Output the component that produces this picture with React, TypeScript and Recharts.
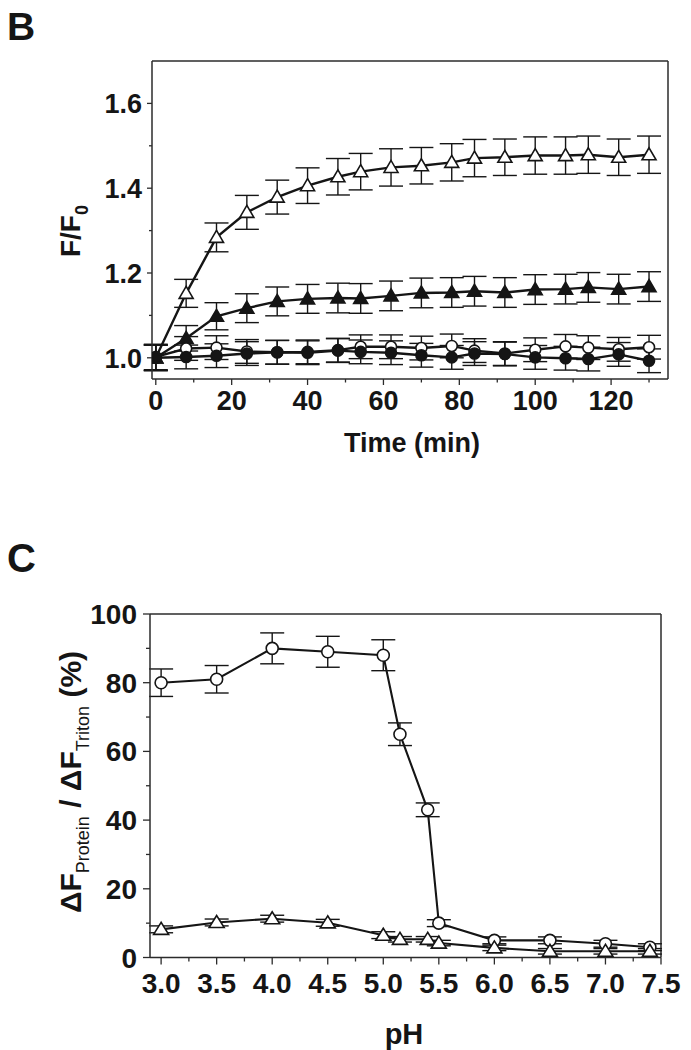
import React from 'react';
import { ComposedChart, Line, XAxis, YAxis, ErrorBar, ReferenceLine } from 'recharts';

// ---------- Panel B data ----------
const times = [0, 8, 16, 24, 32, 40, 48, 54, 62, 70, 78, 84, 92, 100, 108, 114, 122, 130];
const openTriangle = [1.0, 1.152, 1.284, 1.343, 1.379, 1.406, 1.427, 1.439, 1.449, 1.453, 1.461, 1.471, 1.473, 1.477, 1.477, 1.479, 1.473, 1.479];
const openTriangleErr = [0.03, 0.033, 0.034, 0.04, 0.04, 0.042, 0.043, 0.043, 0.044, 0.043, 0.044, 0.044, 0.043, 0.044, 0.044, 0.044, 0.043, 0.044];
const filledTriangle = [1.0, 1.046, 1.098, 1.117, 1.133, 1.139, 1.141, 1.14, 1.146, 1.153, 1.154, 1.157, 1.154, 1.161, 1.162, 1.166, 1.162, 1.168];
const filledTriangleErr = [0.03, 0.03, 0.032, 0.034, 0.034, 0.034, 0.035, 0.035, 0.035, 0.035, 0.035, 0.035, 0.035, 0.035, 0.035, 0.035, 0.035, 0.035];
const openCircle = [1.002, 1.022, 1.024, 1.015, 1.013, 1.014, 1.018, 1.026, 1.026, 1.023, 1.028, 1.017, 1.01, 1.019, 1.027, 1.024, 1.02, 1.025];
const openCircleErr = [0.03, 0.028, 0.028, 0.028, 0.028, 0.028, 0.028, 0.028, 0.028, 0.028, 0.028, 0.028, 0.028, 0.028, 0.028, 0.028, 0.028, 0.028];
const filledCircle = [1.0, 1.002, 1.005, 1.01, 1.013, 1.012, 1.017, 1.014, 1.012, 1.006, 1.001, 1.01, 1.009, 1.001, 0.999, 0.997, 1.008, 0.993];
const filledCircleErr = [0.03, 0.028, 0.028, 0.028, 0.028, 0.028, 0.028, 0.028, 0.028, 0.028, 0.028, 0.028, 0.028, 0.028, 0.028, 0.028, 0.028, 0.028];

const topXTicks = [0, 10, 20, 30, 40, 50, 60, 70, 80, 90, 100, 110, 120, 130];
const topYTicks = [1.0, 1.1, 1.2, 1.3, 1.4, 1.5, 1.6];

// ---------- Panel C data ----------
const pHValues = [3.0, 3.5, 4.0, 4.5, 5.0, 5.15, 5.4, 5.5, 6.0, 6.5, 7.0, 7.4];
const circleSeries = [80, 81, 90, 89, 88, 65, 43, 10, 5, 5, 4, 3];
const circleErr = [4, 4, 4.5, 4.5, 4.5, 3.3, 2, 1, 1, 1, 1, 1];
const triangleSeries = [8.2, 10.2, 11.3, 10.1, 6.5, 5.3, 5.3, 4.2, 2.8, 1.8, 1.8, 1.8];
const triangleErr = [1, 1, 1, 1, 1, 0.8, 0.8, 0.8, 0.8, 0.8, 0.8, 0.8];

const botXTicks = [3.0, 3.25, 3.5, 3.75, 4.0, 4.25, 4.5, 4.75, 5.0, 5.25, 5.5, 5.75, 6.0, 6.25, 6.5, 6.75, 7.0, 7.25, 7.5];
const botYTicks = [0, 10, 20, 30, 40, 50, 60, 70, 80, 90, 100];

const topData = times.map((t, i) => ({
  t,
  ot: openTriangle[i], otErr: openTriangleErr[i],
  ft: filledTriangle[i], ftErr: filledTriangleErr[i],
  oc: openCircle[i], ocErr: openCircleErr[i],
  fc: filledCircle[i], fcErr: filledCircleErr[i],
}));

const botData = pHValues.map((p, i) => ({
  p,
  c: circleSeries[i], cErr: circleErr[i],
  tr: triangleSeries[i], trErr: triangleErr[i],
}));

const FONT = "'Liberation Sans', Arial, Helvetica, sans-serif";
const AXIS = '#2b2b2b';
const INK = '#151515';

const isMajor = (v: number, step: number) => Math.abs(v / step - Math.round(v / step)) < 1e-6;

function yTick(step: number, decimals: number, gap: number, fs: number, majLen: number, minLen: number) {
  return (props: any) => {
    const { x, y, payload } = props;
    const v = payload.value as number;
    const major = isMajor(v, step);
    return (
      <g>
        <line x1={x} x2={x - (major ? majLen : minLen)} y1={y} y2={y} stroke={AXIS} strokeWidth={1.3} />
        {major && (
          <text x={x - gap} y={y} dy="0.36em" textAnchor="end" fontFamily={FONT} fontWeight="bold" fontSize={fs} fill={INK}>
            {v.toFixed(decimals)}
          </text>
        )}
      </g>
    );
  };
}

function xTick(step: number, decimals: number, base: number, fs: number, majLen: number, minLen: number) {
  return (props: any) => {
    const { x, y, payload } = props;
    const v = payload.value as number;
    const major = isMajor(v, step);
    return (
      <g>
        <line x1={x} x2={x} y1={y} y2={y + (major ? majLen : minLen)} stroke={AXIS} strokeWidth={1.3} />
        {major && (
          <text x={x} y={y + base} textAnchor="middle" fontFamily={FONT} fontWeight="bold" fontSize={fs} fill={INK}>
            {v.toFixed(decimals)}
          </text>
        )}
      </g>
    );
  };
}

function triangleDot(fill: string, w: number, h: number) {
  return (p: any) => {
    const { cx, cy, index } = p;
    if (cx == null || cy == null) return <g key={index} />;
    const pts = `${cx},${cy - h * 0.58} ${cx - w / 2},${cy + h * 0.42} ${cx + w / 2},${cy + h * 0.42}`;
    return <polygon key={index} points={pts} fill={fill} stroke={INK} strokeWidth={1.6} strokeLinejoin="miter" />;
  };
}

function circleDot(fill: string, r: number) {
  return (p: any) => {
    const { cx, cy, index } = p;
    if (cx == null || cy == null) return <g key={index} />;
    return <circle key={index} cx={cx} cy={cy} r={r} fill={fill} stroke={INK} strokeWidth={1.6} />;
  };
}

const errLine = (key: string, errKey: string) => (
  <Line key={`e-${key}`} dataKey={key} stroke="none" dot={false} activeDot={false} isAnimationActive={false} legendType="none">
    <ErrorBar dataKey={errKey} width={12} stroke={INK} strokeWidth={1.4} direction="y" />
  </Line>
);

const TopChart = () => (
  <ComposedChart width={691} height={480} data={topData} margin={{ top: 61, right: 23, bottom: 0, left: 0 }}>
    <XAxis
      dataKey="t" type="number" domain={[-1, 135]} allowDataOverflow ticks={topXTicks}
      tickSize={0} tickMargin={0} tickLine={false} height={101} interval={0}
      axisLine={{ stroke: AXIS, strokeWidth: 1.5 }}
      tick={xTick(20, 0, 31, 27, 6, 3.5)}
      label={{
        content: () => (
          <text x={412} y={452} textAnchor="middle" fontFamily={FONT} fontWeight="bold" fontSize={27} fill={INK}>
            Time (min)
          </text>
        ),
      }}
    />
    <YAxis
      type="number" domain={[0.95, 1.7]} allowDataOverflow ticks={topYTicks}
      tickSize={0} tickMargin={0} tickLine={false} width={152} interval={0}
      axisLine={{ stroke: AXIS, strokeWidth: 1.5 }}
      tick={yTick(0.2, 1, 10, 27, 5, 3)}
      label={{
        content: () => (
          <text transform="rotate(-90, 80, 231)" x={80} y={231} textAnchor="middle" fontFamily={FONT} fontWeight="bold" fontSize={28} fill={INK}>
            F/F<tspan fontSize={18} dy={8}>0</tspan>
          </text>
        ),
      }}
    />
    <ReferenceLine y={1.7} stroke={AXIS} strokeWidth={1.5} />
    <ReferenceLine x={135} stroke={AXIS} strokeWidth={1.5} />
    <Line dataKey="ot" stroke={INK} strokeWidth={2.4} isAnimationActive={false} dot={triangleDot('#fff', 14, 12)} />
    <Line dataKey="ft" stroke={INK} strokeWidth={2.4} isAnimationActive={false} dot={triangleDot(INK, 14, 12)} />
    <Line dataKey="oc" stroke={INK} strokeWidth={2.4} isAnimationActive={false} dot={circleDot('#fff', 5.5)} />
    <Line dataKey="fc" stroke={INK} strokeWidth={2.4} isAnimationActive={false} dot={circleDot(INK, 5.5)} />
    {errLine('ot', 'otErr')}
    {errLine('ft', 'ftErr')}
    {errLine('oc', 'ocErr')}
    {errLine('fc', 'fcErr')}
  </ComposedChart>
);

const BottomChart = () => (
  <ComposedChart width={691} height={550} data={botData} margin={{ top: 114, right: 30, bottom: 0, left: 0 }}>
    <XAxis
      dataKey="p" type="number" domain={[2.9, 7.5]} allowDataOverflow ticks={botXTicks}
      tickSize={0} tickMargin={0} tickLine={false} height={92.5} interval={0}
      axisLine={{ stroke: AXIS, strokeWidth: 1.5 }}
      tick={xTick(0.5, 1, 35, 28, 7, 4)}
      label={{
        content: () => (
          <text x={404} y={544} textAnchor="middle" fontFamily={FONT} fontWeight="bold" fontSize={29} fill={INK}>
            pH
          </text>
        ),
      }}
    />
    <YAxis
      type="number" domain={[0, 100]} allowDataOverflow ticks={botYTicks}
      tickSize={0} tickMargin={0} tickLine={false} width={150} interval={0}
      axisLine={{ stroke: AXIS, strokeWidth: 1.5 }}
      tick={yTick(20, 0, 13, 28, 7, 4)}
      label={{
        content: () => (
          <text transform="rotate(-90, 81, 282)" x={81} y={282} textAnchor="middle" fontFamily={FONT} fontWeight="bold" fontSize={30} fill={INK}>
            ΔF<tspan fontSize={18} fontWeight="normal" dy={8}>Protein</tspan>
            <tspan dy={-8}> / ΔF</tspan>
            <tspan fontSize={18} fontWeight="normal" dy={8}>Triton</tspan>
            <tspan dy={-8}> (%)</tspan>
          </text>
        ),
      }}
    />
    <ReferenceLine y={100} stroke={AXIS} strokeWidth={1.5} />
    <ReferenceLine x={7.5} stroke={AXIS} strokeWidth={1.5} />
    <Line dataKey="c" stroke={INK} strokeWidth={2.1} isAnimationActive={false} dot={circleDot('#fff', 6)} />
    <Line dataKey="tr" stroke={INK} strokeWidth={2.1} isAnimationActive={false} dot={triangleDot('#fff', 15, 12)} />
    {errLine('c', 'cErr')}
    {errLine('tr', 'trErr')}
  </ComposedChart>
);

export default function App() {
  return (
    <div style={{ position: 'absolute', left: 0, top: 0, width: 691, height: 1050, background: '#fff', overflow: 'hidden' }}>
      <div style={{ position: 'absolute', left: 0, top: 0 }}>
        <TopChart />
      </div>
      <div style={{ position: 'absolute', left: 0, top: 500 }}>
        <BottomChart />
      </div>
      <svg width={691} height={1050} style={{ position: 'absolute', left: 0, top: 0, pointerEvents: 'none' }}>
        <text x={7} y={40} fontFamily={FONT} fontWeight="bold" fontSize={39} fill={INK}>B</text>
        <text x={7} y={572} fontFamily={FONT} fontWeight="bold" fontSize={40} fill={INK}>C</text>
      </svg>
    </div>
  );
}
